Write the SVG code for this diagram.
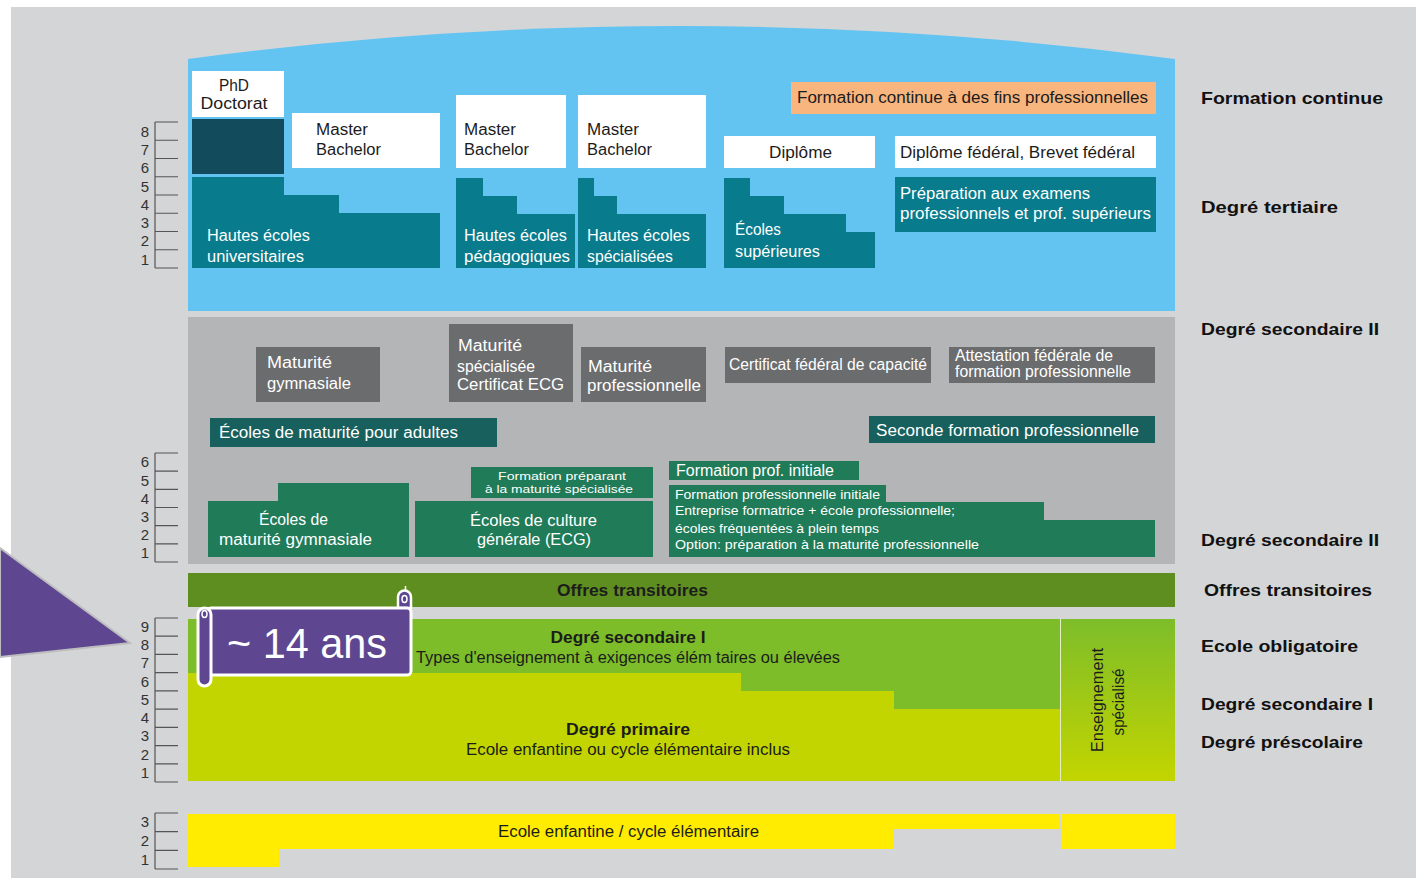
<svg xmlns="http://www.w3.org/2000/svg" width="1416" height="878" viewBox="0 0 1416 878">
<defs>
<linearGradient id="gSpec" x1="0" y1="0" x2="0" y2="1">
<stop offset="0" stop-color="#7dbd2a"/>
<stop offset="1" stop-color="#c3d500"/>
</linearGradient>
<style>
text{font-family:"Liberation Sans",Arial,sans-serif;}
.dk{fill:#1c1c1c;font-size:16px;}
.wt{fill:#ffffff;font-size:16px;}
.sm{fill:#ffffff;font-size:13px;}
.xs{fill:#ffffff;font-size:11px;}
.lbl{fill:#111111;font-size:17px;font-weight:bold;}
.bd{fill:#1c1c1c;font-size:16px;font-weight:bold;}
.num{fill:#333333;font-size:15px;text-anchor:middle;}
.tick{stroke:#555555;stroke-width:1.2;fill:none;}
.white{fill:#ffffff;}
.teal{fill:#087b8c;}
.dgray{fill:#6b6c6e;}
.green{fill:#1f7b58;}
.dteal{fill:#17605e;}
</style>
</defs>
<rect x="0" y="0" width="1416" height="878" fill="#ffffff"/>
<rect x="11" y="7" width="1405" height="871" fill="#d4d5d7"/>

<g id="tertiary">
<path d="M188 59 Q681 -7 1175 59 V311 H188 Z" fill="#63c4f2"/>
<g id="phd"><rect x="192" y="71" width="92" height="46" class="white"/><text x="234" y="91" class="dk" text-anchor="middle" textLength="30" lengthAdjust="spacingAndGlyphs">PhD</text><text x="234" y="109" class="dk" text-anchor="middle" textLength="67" lengthAdjust="spacingAndGlyphs">Doctorat</text></g>
<rect id="phd-bar" x="192" y="119" width="92" height="55" fill="#124b5c"/>
<g id="mb-uni"><rect x="292" y="113" width="148" height="55" class="white"/><text x="316" y="135" class="dk" textLength="52" lengthAdjust="spacingAndGlyphs">Master</text><text x="316" y="155" class="dk" textLength="65" lengthAdjust="spacingAndGlyphs">Bachelor</text></g>
<g id="heu"><polygon points="192,177 284,177 284,195 339,195 339,213 440,213 440,268 192,268" class="teal"/><text x="207" y="241" class="wt" textLength="103" lengthAdjust="spacingAndGlyphs">Hautes écoles</text><text x="207" y="262" class="wt" textLength="97" lengthAdjust="spacingAndGlyphs">universitaires</text></g>
<g id="mb-hep"><rect x="456" y="95" width="110" height="73" class="white"/><text x="464" y="135" class="dk" textLength="52" lengthAdjust="spacingAndGlyphs">Master</text><text x="464" y="155" class="dk" textLength="65" lengthAdjust="spacingAndGlyphs">Bachelor</text></g>
<g id="hep"><polygon points="456,178 483,178 483,196 517,196 517,214 575,214 575,268 456,268" class="teal"/><text x="464" y="241" class="wt" textLength="103" lengthAdjust="spacingAndGlyphs">Hautes écoles</text><text x="464" y="262" class="wt" textLength="106" lengthAdjust="spacingAndGlyphs">pédagogiques</text></g>
<g id="mb-hes"><rect x="578" y="95" width="128" height="73" class="white"/><text x="587" y="135" class="dk" textLength="52" lengthAdjust="spacingAndGlyphs">Master</text><text x="587" y="155" class="dk" textLength="65" lengthAdjust="spacingAndGlyphs">Bachelor</text></g>
<g id="hes"><polygon points="578,178 594,178 594,196 617,196 617,214 706,214 706,268 578,268" class="teal"/><text x="587" y="241" class="wt" textLength="103" lengthAdjust="spacingAndGlyphs">Hautes écoles</text><text x="587" y="262" class="wt" textLength="86" lengthAdjust="spacingAndGlyphs">spécialisées</text></g>
<g id="fc"><rect x="791" y="82" width="365" height="32" fill="#f8b57e"/><text x="797" y="103" class="dk" textLength="351" lengthAdjust="spacingAndGlyphs">Formation continue à des fins professionnelles</text></g>
<g id="diplome"><rect x="724" y="136" width="151" height="32" class="white"/><text x="769" y="158" class="dk" textLength="63" lengthAdjust="spacingAndGlyphs">Diplôme</text></g>
<g id="federal"><rect x="895" y="136" width="261" height="32" class="white"/><text x="900" y="158" class="dk" textLength="235" lengthAdjust="spacingAndGlyphs">Diplôme fédéral, Brevet fédéral</text></g>
<g id="es"><polygon points="724,178 750,178 750,196 784,196 784,214 846,214 846,232 875,232 875,268 724,268" class="teal"/><text x="735" y="235" class="wt" textLength="46" lengthAdjust="spacingAndGlyphs">Écoles</text><text x="735" y="257" class="wt" textLength="85" lengthAdjust="spacingAndGlyphs">supérieures</text></g>
<g id="prep"><rect x="895" y="177" width="261" height="55" class="teal"/><text x="900" y="199" class="wt" textLength="190" lengthAdjust="spacingAndGlyphs">Préparation aux examens</text><text x="900" y="219" class="wt" textLength="251" lengthAdjust="spacingAndGlyphs">professionnels et prof. supérieurs</text></g>
</g>

<g id="secondary2">
<rect x="188" y="317" width="987" height="247" fill="#b4b5b7"/>
<g id="mat-gym"><rect x="256" y="347" width="124" height="55" class="dgray"/><text x="267" y="368" class="wt" textLength="65" lengthAdjust="spacingAndGlyphs">Maturité</text><text x="267" y="389" class="wt" textLength="84" lengthAdjust="spacingAndGlyphs">gymnasiale</text></g>
<g id="mat-spec"><rect x="449" y="324" width="124" height="78" class="dgray"/><text x="458" y="351" class="wt" textLength="64" lengthAdjust="spacingAndGlyphs">Maturité</text><text x="457" y="372" class="wt" textLength="78" lengthAdjust="spacingAndGlyphs">spécialisée</text><text x="457" y="390" class="wt" textLength="107" lengthAdjust="spacingAndGlyphs">Certificat ECG</text></g>
<g id="mat-pro"><rect x="581" y="347" width="125" height="55" class="dgray"/><text x="588" y="372" class="wt" textLength="64" lengthAdjust="spacingAndGlyphs">Maturité</text><text x="587" y="391" class="wt" textLength="114" lengthAdjust="spacingAndGlyphs">professionnelle</text></g>
<g id="cfc"><rect x="725" y="347" width="206" height="36" class="dgray"/><text x="729" y="370" class="wt" textLength="198" lengthAdjust="spacingAndGlyphs">Certificat fédéral de capacité</text></g>
<g id="afp"><rect x="949" y="347" width="206" height="36" class="dgray"/><text x="955" y="361" class="wt" font-size="12" textLength="158" lengthAdjust="spacingAndGlyphs">Attestation fédérale de</text><text x="955" y="377" class="wt" font-size="12" textLength="176" lengthAdjust="spacingAndGlyphs">formation professionnelle</text></g>
<g id="ema"><rect x="210" y="418" width="287" height="29" class="dteal"/><text x="219" y="438" class="wt" textLength="239" lengthAdjust="spacingAndGlyphs">Écoles de maturité pour adultes</text></g>
<g id="sfp"><rect x="869" y="416" width="286" height="27" class="dteal"/><text x="876" y="436" class="wt" textLength="263" lengthAdjust="spacingAndGlyphs">Seconde formation professionnelle</text></g>
<g id="emg"><polygon points="208,501 278,501 278,483 409,483 409,557 208,557" class="green"/><text x="259" y="525" class="wt" textLength="69" lengthAdjust="spacingAndGlyphs">Écoles de</text><text x="219" y="545" class="wt" textLength="153" lengthAdjust="spacingAndGlyphs">maturité gymnasiale</text></g>
<g id="fpms"><rect x="471" y="467" width="182" height="31" class="green"/><text x="498" y="480" class="xs" textLength="128" lengthAdjust="spacingAndGlyphs">Formation préparant</text><text x="485" y="493" class="xs" textLength="148" lengthAdjust="spacingAndGlyphs">à la maturité spécialisée</text></g>
<g id="ecg"><rect x="415" y="501" width="238" height="56" class="green"/><text x="470" y="526" class="wt" textLength="127" lengthAdjust="spacingAndGlyphs">Écoles de culture</text><text x="477" y="545" class="wt" textLength="114" lengthAdjust="spacingAndGlyphs">générale (ECG)</text></g>
<g id="fpi"><rect x="669" y="461" width="190" height="19" class="green"/><text x="676" y="476" class="wt" font-size="15" textLength="158" lengthAdjust="spacingAndGlyphs">Formation prof. initiale</text></g>
<g id="fp"><polygon points="669,485 886,485 886,502 1044,502 1044,520 1155,520 1155,557 669,557" class="green"/><text x="675" y="499" class="sm" textLength="205" lengthAdjust="spacingAndGlyphs">Formation professionnelle initiale</text><text x="675" y="515" class="sm" textLength="280" lengthAdjust="spacingAndGlyphs">Entreprise formatrice + école professionnelle;</text><text x="675" y="533" class="sm" textLength="204" lengthAdjust="spacingAndGlyphs">écoles fréquentées à plein temps</text><text x="675" y="549" class="sm" textLength="304" lengthAdjust="spacingAndGlyphs">Option: préparation à la maturité professionnelle</text></g>
</g>

<g id="transitoires"><rect x="188" y="573" width="987" height="34" fill="#5e8e1f"/><text x="557" y="596" class="bd" textLength="151" lengthAdjust="spacingAndGlyphs">Offres transitoires</text></g>

<g id="obligatoire">
<rect x="188" y="619" width="872" height="162" fill="#c3d500"/>
<polygon points="188,619 1060,619 1060,709 894,709 894,691 741,691 741,673 188,673" fill="#7dbd2a"/>
<text x="628" y="643" class="bd" text-anchor="middle" textLength="155" lengthAdjust="spacingAndGlyphs">Degré secondaire I</text>
<text x="416" y="663" class="dk" textLength="424" lengthAdjust="spacingAndGlyphs">Types d'enseignement à exigences élém taires ou élevées</text>
<text x="628" y="735" class="bd" text-anchor="middle" textLength="124" lengthAdjust="spacingAndGlyphs">Degré primaire</text>
<text x="628" y="755" class="dk" text-anchor="middle" textLength="324" lengthAdjust="spacingAndGlyphs">Ecole enfantine ou cycle élémentaire inclus</text>
</g>
<g id="specialise"><rect x="1061" y="619" width="114" height="162" fill="url(#gSpec)"/><line x1="1060.5" y1="619" x2="1060.5" y2="781" stroke="#e4eec0" stroke-width="1"/><text transform="translate(1103,700) rotate(-90)" class="dk" text-anchor="middle" textLength="104" lengthAdjust="spacingAndGlyphs">Enseignement</text><text transform="translate(1124,702) rotate(-90)" class="dk" text-anchor="middle" textLength="67" lengthAdjust="spacingAndGlyphs">spécialisé</text></g>

<g id="prescolaire">
<polygon points="188,814 1060,814 1060,829 893,829 893,849 279,849 279,867 188,867" fill="#ffec00"/>
<rect x="1061" y="814" width="114" height="35" fill="#ffec00"/>
<text x="498" y="837" class="dk" textLength="261" lengthAdjust="spacingAndGlyphs">Ecole enfantine / cycle élémentaire</text>
</g>

<g id="scales">
<path class="tick" d="M155 122 V268 M155 122 H178 M155 140.25 H178 M155 158.5 H178 M155 176.75 H178 M155 195 H178 M155 213.25 H178 M155 231.5 H178 M155 249.75 H178 M155 268 H178"/>
<text class="num" x="145" y="137">8</text><text class="num" x="145" y="155">7</text><text class="num" x="145" y="173">6</text><text class="num" x="145" y="192">5</text><text class="num" x="145" y="210">4</text><text class="num" x="145" y="228">3</text><text class="num" x="145" y="246">2</text><text class="num" x="145" y="265">1</text>
<path class="tick" d="M155 453 V562 M155 453 H178 M155 471.2 H178 M155 489.3 H178 M155 507.5 H178 M155 525.7 H178 M155 543.8 H178 M155 562 H178"/>
<text class="num" x="145" y="467">6</text><text class="num" x="145" y="486">5</text><text class="num" x="145" y="504">4</text><text class="num" x="145" y="522">3</text><text class="num" x="145" y="540">2</text><text class="num" x="145" y="558">1</text>
<path class="tick" d="M155 618 V782 M155 618 H178 M155 636.2 H178 M155 654.4 H178 M155 672.7 H178 M155 690.9 H178 M155 709.1 H178 M155 727.3 H178 M155 745.6 H178 M155 763.8 H178 M155 782 H178"/>
<text class="num" x="145" y="632">9</text><text class="num" x="145" y="650">8</text><text class="num" x="145" y="668">7</text><text class="num" x="145" y="687">6</text><text class="num" x="145" y="705">5</text><text class="num" x="145" y="723">4</text><text class="num" x="145" y="741">3</text><text class="num" x="145" y="760">2</text><text class="num" x="145" y="778">1</text>
<path class="tick" d="M155 813 V869 M155 813 H178 M155 831.7 H178 M155 850.3 H178 M155 869 H178"/>
<text class="num" x="145" y="827">3</text><text class="num" x="145" y="846">2</text><text class="num" x="145" y="865">1</text>
</g>

<g id="labels">
<text x="1201" y="104" class="lbl" textLength="182" lengthAdjust="spacingAndGlyphs">Formation continue</text>
<text x="1201" y="213" class="lbl" textLength="137" lengthAdjust="spacingAndGlyphs">Degré tertiaire</text>
<text x="1201" y="335" class="lbl" textLength="178" lengthAdjust="spacingAndGlyphs">Degré secondaire II</text>
<text x="1201" y="546" class="lbl" textLength="178" lengthAdjust="spacingAndGlyphs">Degré secondaire II</text>
<text x="1204" y="596" class="lbl" textLength="168" lengthAdjust="spacingAndGlyphs">Offres transitoires</text>
<text x="1201" y="652" class="lbl" textLength="157" lengthAdjust="spacingAndGlyphs">Ecole obligatoire</text>
<text x="1201" y="710" class="lbl" textLength="172" lengthAdjust="spacingAndGlyphs">Degré secondaire I</text>
<text x="1201" y="748" class="lbl" textLength="162" lengthAdjust="spacingAndGlyphs">Degré préscolaire</text>
</g>

<g id="arrow"><polygon points="0,548 130,643 0,657" fill="#5e4790" stroke="#bdbdbf" stroke-width="2"/></g>

<g id="callout">
<path d="M398 608 V597 A6.5 6.5 0 0 1 411 597 V608 Z" fill="#5e4790" stroke="#ffffff" stroke-width="2.5"/>
<line x1="405.5" y1="590.5" x2="405.5" y2="586" stroke="#ffffff" stroke-width="1.5"/>
<rect x="207" y="608" width="204" height="67" rx="4" fill="#5e4790" stroke="#ffffff" stroke-width="3"/>
<rect x="198" y="608" width="13" height="78" rx="6.5" fill="#5e4790" stroke="#ffffff" stroke-width="3"/>
<ellipse cx="204.5" cy="614" rx="2.5" ry="3.5" fill="none" stroke="#ffffff" stroke-width="1.5"/>
<ellipse cx="404.5" cy="599" rx="2.5" ry="3.5" fill="none" stroke="#ffffff" stroke-width="1.5"/>
<text x="227" y="658" fill="#ffffff" font-family="Lato, 'Liberation Sans', sans-serif" font-size="42" textLength="160" lengthAdjust="spacingAndGlyphs">~ 14 ans</text>
</g>
</svg>
